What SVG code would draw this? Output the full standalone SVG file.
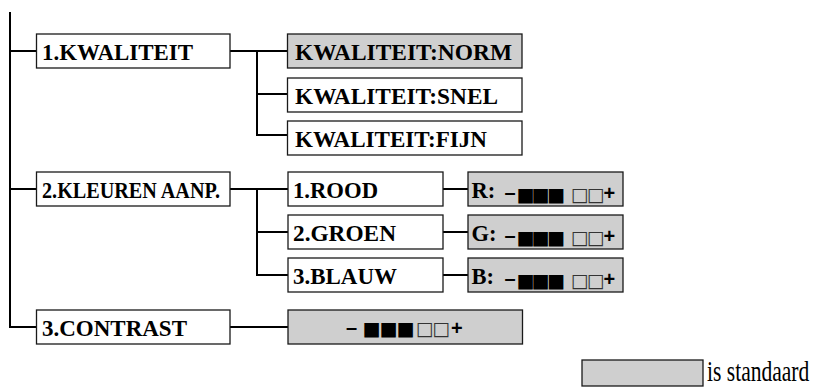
<svg xmlns="http://www.w3.org/2000/svg" width="814" height="387" viewBox="0 0 814 387">
<style>
.bx{fill:#fff;stroke:#1a1a1a;stroke-width:1.3}
.gb{fill:#cfcfcf;stroke:#1a1a1a;stroke-width:1.3}
.ln{fill:none;stroke:#000;stroke-width:2}
.lb{font-family:"Liberation Serif","Times New Roman",serif;font-weight:bold;font-size:22.5px;fill:#000}
.sg{font-family:"Liberation Sans",Arial,sans-serif;font-weight:bold;font-size:20px;fill:#000}
.sq{font-family:"DejaVu Sans",sans-serif;font-size:19px;fill:#000}
.ho{fill:#333}
.lg{font-family:"Liberation Serif","Times New Roman",serif;font-size:22px;fill:#000}
</style>
<rect width="814" height="387" fill="#fff"/>
<g id="connectors">
<path class="ln" d="M10 12V327H36.5M10 51H36.5M10 189H36.5"/>
<path class="ln" d="M230 51H287.5M257 51V135H287.5M257 94H287.5"/>
<path class="ln" d="M230 189H288M257 189V275H288M257 232H288"/>
<path class="ln" d="M443 189H468M443 232H468M443 275H468"/>
<path class="ln" d="M230 327H288"/>
</g>
<g id="n-kwaliteit"><rect class="bx" x="36.5" y="34" width="193.5" height="34"/><text class="lb" x="42" y="60" textLength="151" lengthAdjust="spacingAndGlyphs">1.KWALITEIT</text></g>
<g id="n-kleuren"><rect class="bx" x="36.5" y="172" width="193.5" height="34"/><text class="lb" x="42" y="198" textLength="178" lengthAdjust="spacingAndGlyphs">2.KLEUREN AANP.</text></g>
<g id="n-contrast"><rect class="bx" x="36.5" y="310" width="193.5" height="34"/><text class="lb" x="42" y="336" textLength="145" lengthAdjust="spacingAndGlyphs">3.CONTRAST</text></g>
<g id="n-norm"><rect class="gb" x="287.5" y="34" width="234.5" height="34"/><text class="lb" x="295" y="60" textLength="217" lengthAdjust="spacingAndGlyphs">KWALITEIT:NORM</text></g>
<g id="n-snel"><rect class="bx" x="287.5" y="78" width="234.5" height="34"/><text class="lb" x="295" y="104" textLength="203" lengthAdjust="spacingAndGlyphs">KWALITEIT:SNEL</text></g>
<g id="n-fijn"><rect class="bx" x="287.5" y="121" width="234.5" height="34"/><text class="lb" x="295" y="147" textLength="192" lengthAdjust="spacingAndGlyphs">KWALITEIT:FIJN</text></g>
<g id="n-rood"><rect class="bx" x="288" y="172" width="155" height="34"/><text class="lb" x="293" y="198" textLength="85" lengthAdjust="spacingAndGlyphs">1.ROOD</text></g>
<g id="n-groen"><rect class="bx" x="288" y="215" width="155" height="34"/><text class="lb" x="293" y="241" textLength="103" lengthAdjust="spacingAndGlyphs">2.GROEN</text></g>
<g id="n-blauw"><rect class="bx" x="288" y="258" width="155" height="34"/><text class="lb" x="293" y="284" textLength="104" lengthAdjust="spacingAndGlyphs">3.BLAUW</text></g>
<g id="n-r"><rect class="gb" x="468" y="172" width="155" height="34"/><text y="199"><tspan class="lb" x="471.5" y="198">R:</tspan><tspan class="sg" x="504.5" y="199">–</tspan><tspan class="sq" x="516.7" y="200.5">■</tspan><tspan class="sq" x="531.7">■</tspan><tspan class="sq" x="547.2">■</tspan><tspan class="sq ho" x="570.7">□</tspan><tspan class="sq ho" x="586.7">□</tspan><tspan class="sg" x="603.5" y="200">+</tspan></text></g>
<g id="n-g"><rect class="gb" x="468" y="215" width="155" height="34"/><text y="242"><tspan class="lb" x="471.5" y="241">G:</tspan><tspan class="sg" x="504.5" y="242">–</tspan><tspan class="sq" x="516.7" y="243.5">■</tspan><tspan class="sq" x="531.7">■</tspan><tspan class="sq" x="547.2">■</tspan><tspan class="sq ho" x="570.7">□</tspan><tspan class="sq ho" x="586.7">□</tspan><tspan class="sg" x="603.5" y="243">+</tspan></text></g>
<g id="n-b"><rect class="gb" x="468" y="258" width="155" height="34"/><text y="285"><tspan class="lb" x="471.5" y="284">B:</tspan><tspan class="sg" x="504.5" y="285">–</tspan><tspan class="sq" x="516.7" y="286.5">■</tspan><tspan class="sq" x="531.7">■</tspan><tspan class="sq" x="547.2">■</tspan><tspan class="sq ho" x="570.7">□</tspan><tspan class="sq ho" x="586.7">□</tspan><tspan class="sg" x="603.5" y="286">+</tspan></text></g>
<g id="n-contrastval"><rect class="gb" x="288" y="310" width="234.5" height="34"/><text y="334"><tspan class="sg" x="346" y="334">–</tspan><tspan class="sq" x="362.7" y="334.5">■</tspan><tspan class="sq" x="379.7">■</tspan><tspan class="sq" x="396.7">■</tspan><tspan class="sq ho" x="415.7">□</tspan><tspan class="sq ho" x="432.2">□</tspan><tspan class="sg" x="451" y="335">+</tspan></text></g>
<g id="legend"><rect class="gb" x="582" y="360" width="121" height="26"/><text class="lg" transform="translate(707 381) scale(0.98 1.35)" x="0" y="0">is standaard</text></g>
</svg>
